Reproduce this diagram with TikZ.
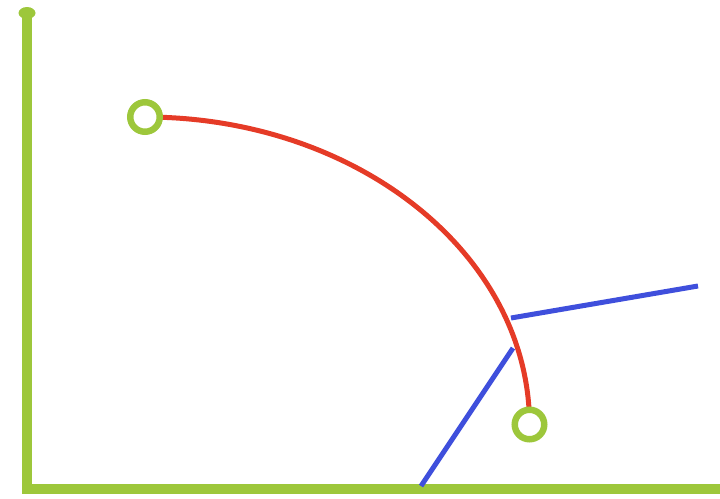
\documentclass[tikz,border=0pt]{standalone}
\usetikzlibrary{arrows.meta}
\definecolor{axisgreen}{HTML}{9DC73B}
\definecolor{arcred}{HTML}{E53B27}
\definecolor{lineblue}{HTML}{3F4FDC}
\tikzset{
  axisline/.style={draw=axisgreen, line width=10pt, line join=miter},
  arcline/.style={draw=arcred, line width=5pt},
  blueline/.style={draw=lineblue, line width=5pt},
  ring/.style={circle, draw=axisgreen, line width=6.5pt, fill=white, minimum size=29.5pt, inner sep=0pt},
}
\begin{document}
\begin{tikzpicture}[x=1pt,y=-1pt]
\useasboundingbox (0,0) rectangle (720,498);
% axes
\coordinate (O) at (27,489);
\coordinate (Ytop) at (27,13);
\coordinate (Xend) at (722,489);
\draw[axisline] (Xend) -- (O) -- (Ytop);
\fill[axisgreen] (Ytop) ellipse [x radius=8.5, y radius=6];
% blue lines
\coordinate (b1s) at (511,318);
\coordinate (b1e) at (698,286);
\coordinate (b2s) at (513,348);
\coordinate (b2e) at (421,486);
\draw[blueline] (b1s) -- (b1e);
\draw[blueline] (b2s) -- (b2e);
% end circles
\coordinate (p1) at (145,117);
\coordinate (p2) at (529.5,424.5);
% red arc
\draw[arcline] (p1) arc[start angle=-90, end angle=0, x radius=384.5, y radius=307.5];
\node[ring] (c1) at (p1) {};
\node[ring] (c2) at (p2) {};
\end{tikzpicture}
\end{document}
